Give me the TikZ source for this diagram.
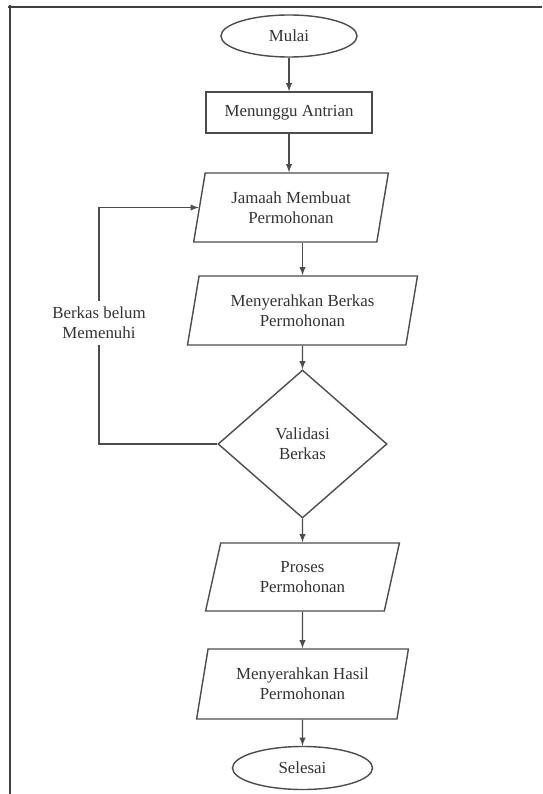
\documentclass[tikz,border=0pt]{standalone}
\usepackage{fontspec}
\setmainfont{Liberation Serif}
\usetikzlibrary{shapes.geometric}

\begin{document}
\begin{tikzpicture}[x=0.025cm, y=-0.025cm, every node/.style={font=\fontsize{12pt}{14.5pt}\selectfont}]
	\tikzset{>=latex}
	\tikzset{garis/.style={draw=black!70, line width=1pt},
		terminal/.style={garis, ellipse, text=black!80, inner sep=0pt},
		kotak/.style={garis, rectangle, text=black!80},
		io/.style={garis, trapezium, trapezium left angle=76, trapezium right angle=104, trapezium stretches=true, align=center, text=black!80, inner sep=0pt},
		keputusan/.style={garis, diamond, align=center, text=black!80, inner sep=0pt}}
	\useasboundingbox (0,0) rectangle (542,794);
	% bingkai
	\draw[black!75, line width=1pt] (8,7) -- (542,7);
	\draw[black!75, line width=1pt] (10,5) -- (10,794);
	% simbol
	\node[terminal, minimum width=3.4cm, minimum height=1.05cm] (mulai) at (289,36) {Mulai};
	\node[kotak, minimum width=4.15cm, minimum height=1.025cm] (antri) at (289,112.5) {Menunggu Antrian};
	\node[io, minimum width=4.9cm, minimum height=1.725cm] (jamaah) at (291,207.5) {Jamaah Membuat\\Permohonan};
	\node[io, minimum width=5.75cm, minimum height=1.725cm] (berkas) at (302.5,310.5) {Menyerahkan Berkas\\Permohonan};
	\node[keputusan, minimum width=4.225cm, minimum height=3.7cm] (valid) at (302.5,444) {Validasi\\Berkas};
	\node[io, minimum width=4.85cm, minimum height=1.7cm] (proses) at (302.5,577) {Proses\\Permohonan};
	\node[io, minimum width=5.3cm, minimum height=1.75cm] (hasil) at (302.5,684) {Menyerahkan Hasil\\Permohonan};
	\node[terminal, minimum width=3.5cm, minimum height=1.075cm] (selesai) at (302.5,768) {Selesai};
	\node[align=center, text=black!80, inner sep=4pt] (belum) at (99,323) {Berkas belum\\Memenuhi};
	% panah
	\draw[garis,->] (mulai) -- (antri);
	\draw[garis,->] (antri.south) -- (antri.south |- jamaah.north);
	\draw[garis,->] (berkas.north |- jamaah.south) -- (berkas.north);
	\draw[garis,->] (berkas) -- (valid);
	\draw[garis,->] (valid) -- (proses);
	\draw[garis,->] (proses) -- (hasil);
	\draw[garis,->] (hasil) -- (selesai);
	\draw[garis] (valid.west) -| (belum.south);
	\draw[garis,->] (belum.north) |- (jamaah);
\end{tikzpicture}
\end{document}
